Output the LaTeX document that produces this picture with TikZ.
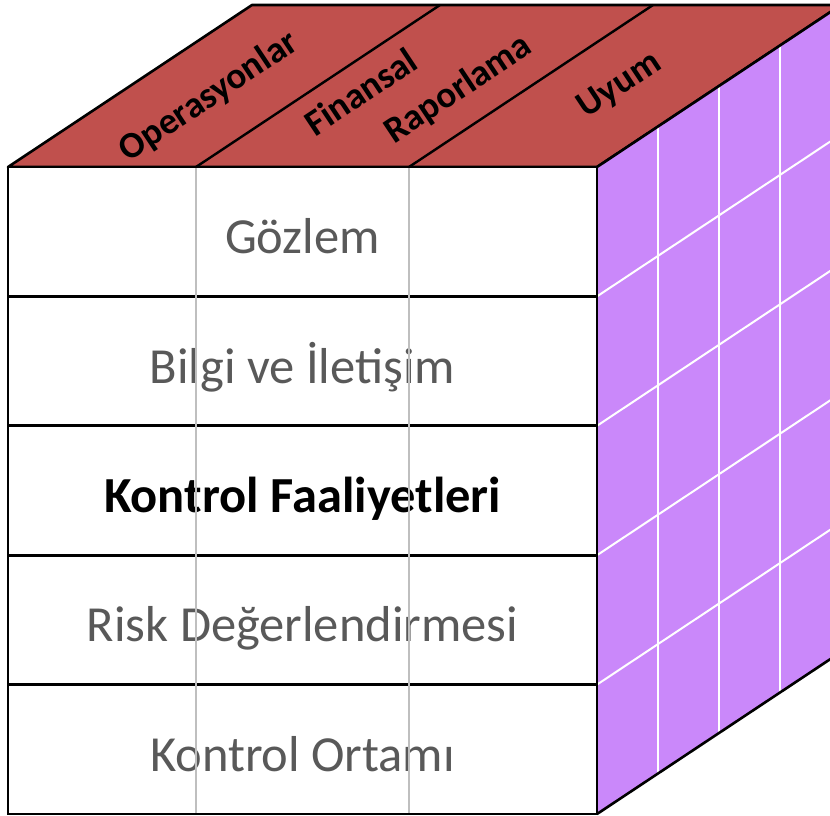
\documentclass[tikz,border=0pt]{standalone}
\usepackage{fontspec}
\setmainfont{Carlito}
\usepackage{xcolor}
\usepackage{tikz}
\usetikzlibrary{positioning}
\definecolor{TopRed}{RGB}{192,80,77}
\definecolor{SideViolet}{RGB}{202,136,250}
\definecolor{TextGray}{RGB}{89,89,89}
\definecolor{ColGray}{RGB}{191,191,191}

\begin{document}
\begin{tikzpicture}[
  x=1pt, y=-1pt,
  layer/.style={
    draw,
    line width=2.8pt,
    fill=white,
    outer sep=0pt,
    minimum width=589pt,
    minimum height=129.4pt,
    text height=54pt,
    text depth=10pt,
    text=TextGray,
    font=\fontsize{50.5}{60}\selectfont
  },
  keylayer/.style={layer, text=black, font=\fontsize{50.5}{60}\selectfont\bfseries},
  topface/.style={fill=TopRed, draw, line width=2.6pt, line join=round},
  sideface/.style={fill=SideViolet, draw, line width=2.6pt, line join=round},
  grid/.style={white, line width=2pt},
  colline/.style={ColGray, line width=2.4pt},
  objective/.style={font=\fontsize{37}{45}\selectfont\bfseries, rotate=33.6, align=left}
]
\clip (0,0) rectangle (830,816);

% cube corners
\coordinate (fnw) at (8,167);
\coordinate (fne) at (597,167);
\coordinate (fse) at (597,814);
\coordinate (bnw) at (252,5);
\coordinate (bne) at (841,5);
\coordinate (bse) at (841,652);

% top face
\filldraw[topface] (fnw) -- (bnw) -- (bne) -- (fne) -- cycle;
\draw[line width=2.4pt] (196,167) -- (440,5);
\draw[line width=2.4pt] (409,167) -- (653,5);
\node[objective] (ops) at (209,97) {Operasyonlar};
\node[objective] (fin) at (419,86) {Finansal\\[5pt]\hspace*{62pt}Raporlama};
\node[objective] (uyum) at (620,86) {Uyum};

% right face
\fill[SideViolet] (fne) -- (bne) -- (bse) -- (fse) -- cycle;
\foreach \k in {1,2,3}
  \draw[grid] (597+61*\k,167-40.5*\k) -- (597+61*\k,814-40.5*\k);
\foreach \j in {1,...,4}
  \draw[grid] (597,167+129.4*\j) -- (841,5+129.4*\j);
\draw[line width=2.6pt, line join=round] (fne) -- (bne) (fse) -- (bse);

% front face
\node[layer] (gozlem) at (302.5,231.7) {Gözlem};
\node[layer] (bilgi) at (302.5,361.1) {Bilgi ve İletişim};
\node[keylayer] (faaliyet) at (302.5,490.5) {Kontrol Faaliyetleri};
\node[layer] (risk) at (302.5,619.9) {Risk Değerlendirmesi};
\node[layer] (ortam) at (302.5,749.3) {Kontrol Ortamı};

\draw[colline] (196,167) -- (196,814);
\draw[colline] (409,167) -- (409,814);
\draw[line width=2.8pt] (gozlem.north west) rectangle (ortam.south east);
\end{tikzpicture}
\end{document}
